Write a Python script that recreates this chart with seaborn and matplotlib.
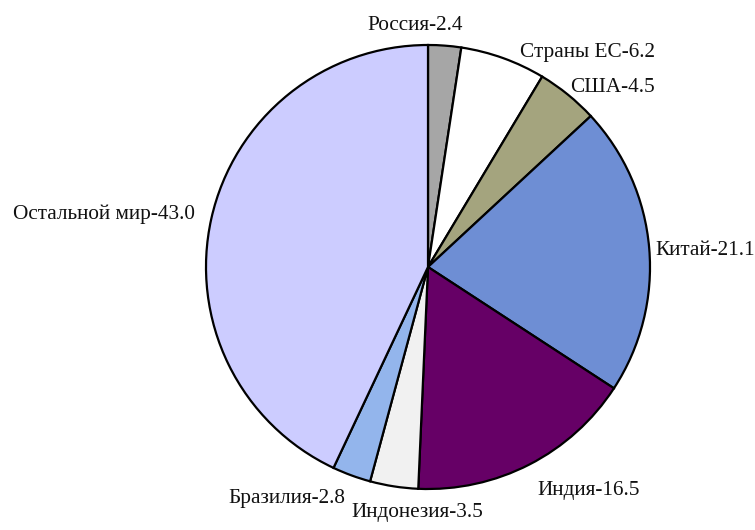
import numpy as np
import matplotlib
matplotlib.use("Agg")
import matplotlib.pyplot as plt
import seaborn as sns

# доли стран, % (по часовой стрелке от верха)
countries = ["Россия", "Страны ЕС", "США", "Китай", "Индия", "Индонезия", "Бразилия", "Остальной мир"]
shares = [2.4, 6.2, 4.5, 21.1, 16.5, 3.5, 2.8, 43.0]
colors = ["#a6a6a6", "#ffffff", "#a4a47e", "#6e8ed4", "#660066", "#f1f1f1", "#93b5ec", "#ccccff"]

sns.set_theme(style="white")
plt.rcParams["font.family"] = ["Liberation Serif", "DejaVu Serif"]

fig = plt.figure(figsize=(7.55, 5.3), dpi=100)
# круг: центр (428, 267), радиус 222 px
ax = fig.add_axes([(428 - 222) / 755, (530 - 267 - 222) / 530, 444 / 755, 444 / 530])

wedges, _ = ax.pie(shares, colors=colors, startangle=90, counterclock=False,
                   radius=1, wedgeprops=dict(edgecolor="black", linewidth=1.6))
ax.set_xlim(-1, 1)
ax.set_ylim(-1, 1)
ax.set_aspect("equal")
ax.axis("off")

# смещения подписей (px) и выравнивание
offsets = [(18, 20, "right"), (17, 6, "left"), (2, 7, "left"), (6, -2, "left"),
           (8, -26, "left"), (23, -26, "center"), (-6, -23, "right"), (-16, 4, "right")]

for w, name, val, (dx, dy, ha) in zip(wedges, countries, shares, offsets):
    ang = np.deg2rad((w.theta1 + w.theta2) / 2)
    ax.annotate(f"{name}-{val:.1f}", xy=(np.cos(ang), np.sin(ang)),
                xytext=(dx, dy), textcoords="offset pixels",
                ha=ha, va="center", fontsize=15.3, color="#111111")

fig.savefig("out.png", dpi=100)
